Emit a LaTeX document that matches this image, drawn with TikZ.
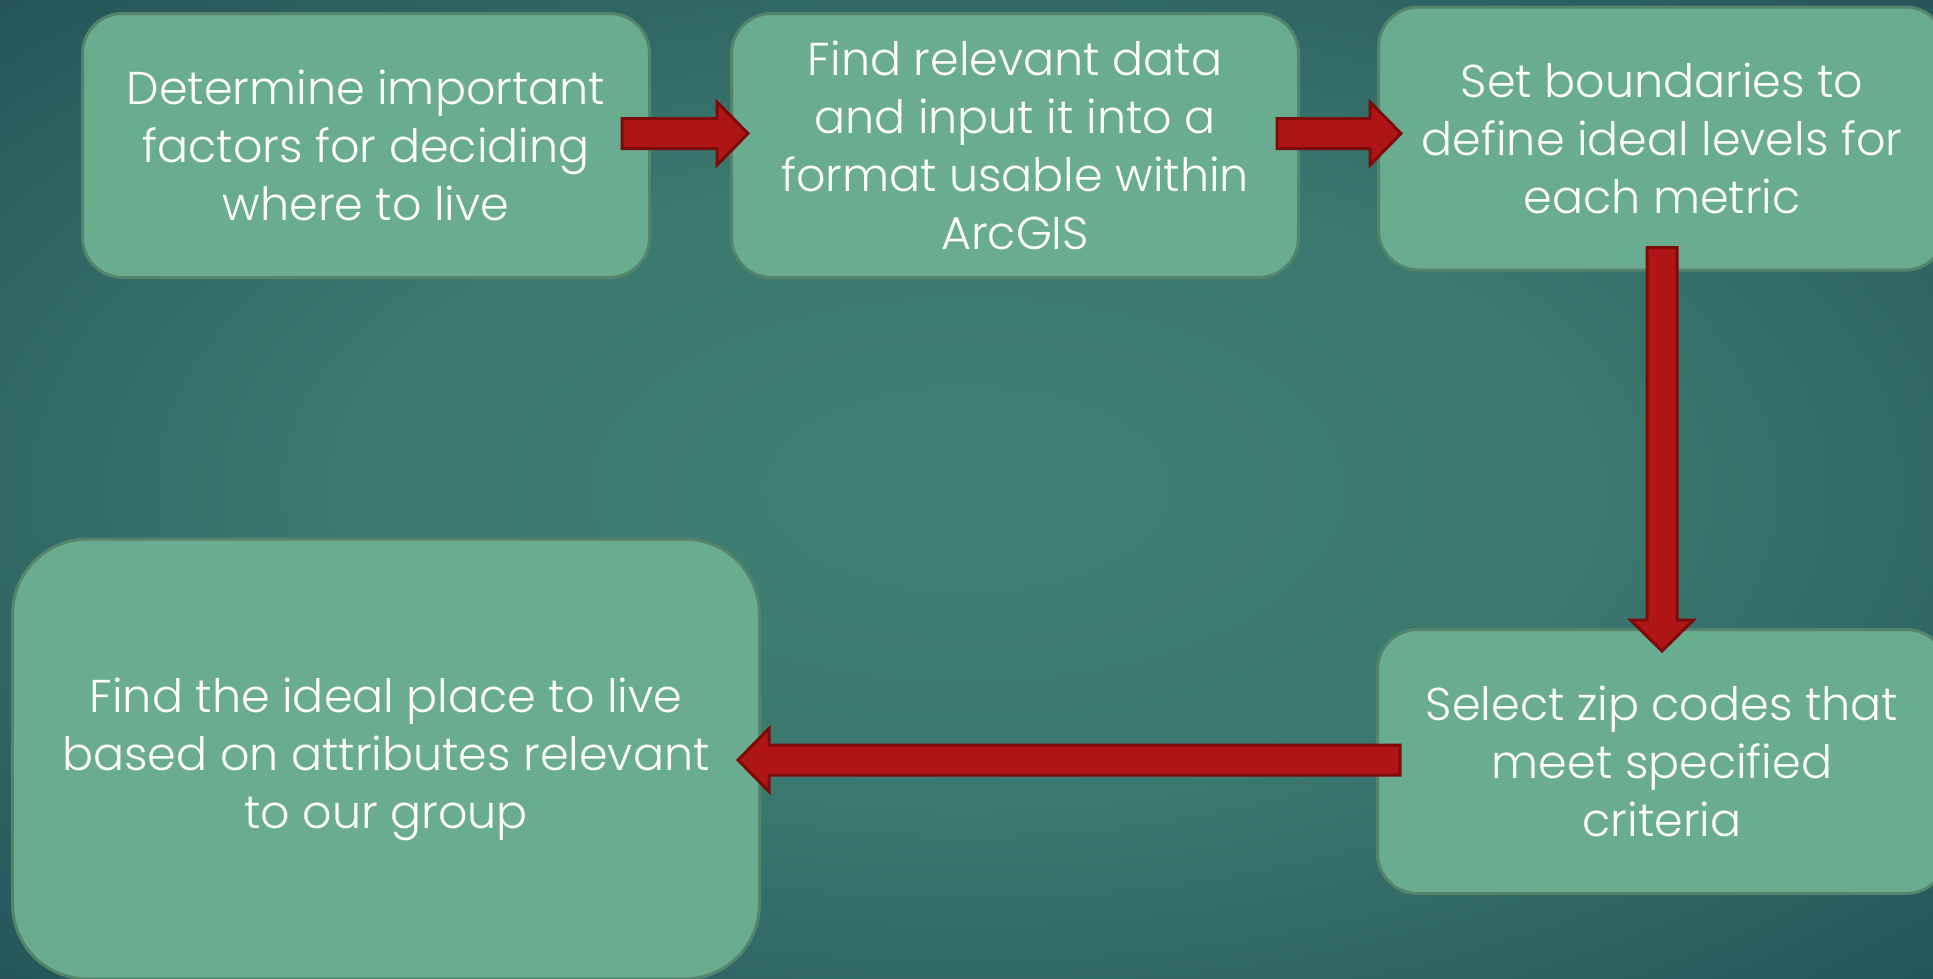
\documentclass[tikz,border=0pt]{standalone}
\usepackage{fontspec}
\setmainfont{Poppins}[UprightFont=* Light]
\usetikzlibrary{calc}

\definecolor{bgin}{RGB}{64,128,116}
\definecolor{bgout}{RGB}{24,66,78}
\definecolor{boxfill}{RGB}{106,172,144}
\definecolor{boxline}{RGB}{84,132,108}
\definecolor{arrowfill}{RGB}{175,21,21}
\definecolor{arrowline}{RGB}{126,11,11}

\pgfdeclareradialshading{slidebg}{\pgfpoint{0bp}{0bp}}{color(0bp)=(bgin); color(16bp)=(bgin!88!bgout); color(46bp)=(bgout); color(70bp)=(bgout)}

% block arrow from tail #1 to tip #2
\newcommand{\fatarrow}[2]{%
  \draw[fatarrow] ($(#1)!15pt!90:(#2)$)
    -- ($(#2)!31pt!(#1)!15pt!90:(#2)$)
    -- ($(#2)!31pt!(#1)!31.5pt!90:(#2)$)
    -- (#2)
    -- ($(#2)!31pt!(#1)!31.5pt!-90:(#2)$)
    -- ($(#2)!31pt!(#1)!15pt!-90:(#2)$)
    -- ($(#1)!15pt!-90:(#2)$) -- cycle;}

\begin{document}
\begin{tikzpicture}[x=1pt,y=-1pt,
  stepbox/.style={draw=boxline, line width=3pt, fill=boxfill, rounded corners=40pt,
    text=white, align=center, inner sep=0pt, font=\fontsize{46}{58}\selectfont},
  fatarrow/.style={draw=arrowline, line width=3pt, fill=arrowfill, line join=miter}]

\useasboundingbox (0,0) rectangle (1933,978);
\fill[shading=slidebg] (0,0) rectangle (1933,978);

\node[stepbox, minimum width=567, minimum height=264] (b1) at (366,145.5)
  {Determine important\\ factors for deciding\\ where to live};
\node[stepbox, minimum width=567, minimum height=264] (b2) at (1015,145.5)
  {Find relevant data\\ and input it into a\\ format usable within\\ ArcGIS};
\node[stepbox, minimum width=567, minimum height=263] (b3) at (1662,138.5)
  {Set boundaries to\\ define ideal levels for\\ each metric};
\node[stepbox, minimum width=569, minimum height=264] (b4) at (1662,761.5)
  {Select zip codes that\\ meet specified\\ criteria};
\node[stepbox, minimum width=747, minimum height=440, rounded corners=75pt] (b5) at (386,759)
  {Find the ideal place to live\\ based on attributes relevant\\ to our group};

\coordinate (t1) at ($(b1.east)+(-29,-12)$);
\coordinate (h1) at ($(b2.west |- t1)+(18,0)$);
\coordinate (t2) at ($(b2.east |- t1)+(-23,0)$);
\coordinate (h2) at ($(b3.west |- t1)+(24,0)$);
\coordinate (t3) at ($(b3.south)+(0,-24)$);
\coordinate (h3) at ($(b4.north)+(0,23)$);
\coordinate (t4) at ($(b4.west)+(24,-1.5)$);
\coordinate (h4) at ($(b5.east |- t4)+(-23,0)$);

\fatarrow{t1}{h1}
\fatarrow{t2}{h2}
\fatarrow{t3}{h3}
\fatarrow{t4}{h4}

\end{tikzpicture}
\end{document}
